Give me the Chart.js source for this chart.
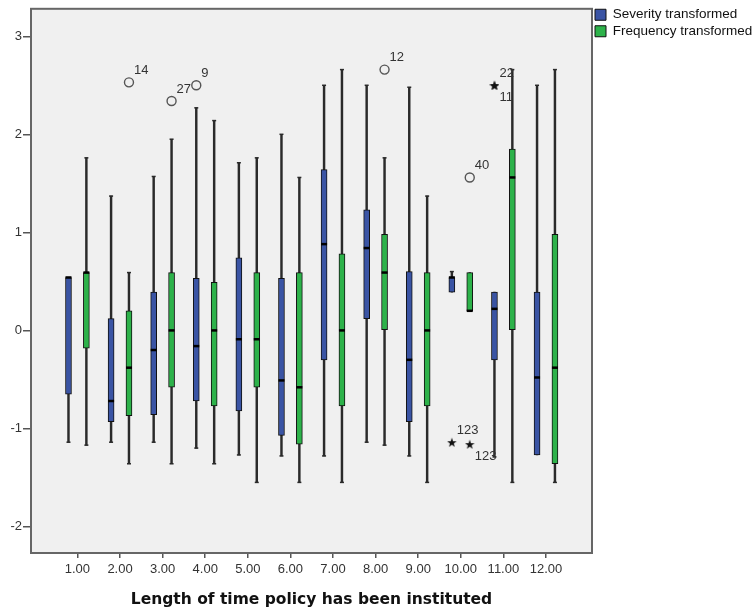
<!DOCTYPE html>
<html>
<head>
<meta charset="utf-8">
<script src="https://cdn.jsdelivr.net/npm/chart.js@4.4.0/dist/chart.umd.min.js"></script>
<style>
  html, body { margin: 0; padding: 0; background: #fff; }
  #chart { display: block; }
</style>
</head>
<body>
<canvas id="chart" width="753" height="615"></canvas>
<script>
// categories on the x axis
const categories = [1, 2, 3, 4, 5, 6, 7, 8, 9, 10, 11, 12];
const xTickLabels = ['1.00', '2.00', '3.00', '4.00', '5.00', '6.00', '7.00', '8.00', '9.00', '10.00', '11.00', '12.00'];
const yTicks = [-2, -1, 0, 1, 2, 3];

// Severity transformed: whisker low, Q1, median, Q3, whisker high
const sevLow  = [-1.14, -1.14, -1.14, -1.20, -1.27, -1.28, -1.28, -1.14, -1.28, 0.39, -1.29, -1.27];
const sevQ1   = [-0.65, -0.93, -0.86, -0.72, -0.82, -1.07, -0.30,  0.12, -0.93, 0.39, -0.30, -1.27];
const sevMed  = [ 0.54, -0.72, -0.20, -0.16, -0.09, -0.51,  0.88,  0.84, -0.30, 0.54,  0.22, -0.48];
const sevQ3   = [ 0.54,  0.12,  0.39,  0.53,  0.74,  0.53,  1.64,  1.23,  0.60, 0.54,  0.39,  0.39];
const sevHigh = [ 0.54,  1.37,  1.57,  2.27,  1.71,  2.00,  2.50,  2.50,  2.48, 0.60,  0.39,  2.50];

// Frequency transformed
const freqLow  = [-1.17, -1.36, -1.36, -1.36, -1.55, -1.55, -1.55, -1.17, -1.55, 0.20, -1.55, -1.55];
const freqQ1   = [-0.18, -0.87, -0.58, -0.77, -0.58, -1.16, -0.77,  0.00, -0.77, 0.20,  0.00, -1.36];
const freqMed  = [ 0.59, -0.38,  0.00,  0.00, -0.09, -0.58,  0.00,  0.59,  0.00, 0.20,  1.56, -0.38];
const freqQ3   = [ 0.59,  0.20,  0.59,  0.49,  0.59,  0.59,  0.78,  0.98,  0.59, 0.59,  1.85,  0.98];
const freqHigh = [ 1.76,  0.59,  1.95,  2.14,  1.76,  1.56,  2.66,  1.76,  1.37, 0.59,  2.66,  2.66];

// outliers (o) and extremes (*)
const outCat    = [2, 3, 4, 8, 10, 10, 10, 11, 11];
const outSeries = ['freq', 'freq', 'sev', 'freq', 'freq', 'sev', 'freq', 'sev', 'sev'];
const outValue  = [2.53, 2.34, 2.50, 2.66, 1.56, -1.14, -1.16, 2.50, 2.50];
const outKind   = ['o', 'o', 'o', 'o', 'o', '*', '*', '*', '*'];
const outLabel  = ['14', '27', '9', '12', '40', '123', '123', '22', '11'];
const outLabelBelow = [false, false, false, false, false, false, true, false, true];

const SEV_BLUE = '#3a54a4';
const FREQ_GREEN = '#2db24a';
const SHIFT = 0.21; // half distance between the two boxes of a category

const xOf = (cat, series) => cat + (series === 'sev' ? -SHIFT : SHIFT);

function makeStar(size) {
  const c = document.createElement('canvas');
  c.width = size; c.height = size;
  const g = c.getContext('2d');
  g.fillStyle = '#111';
  g.beginPath();
  for (let k = 0; k < 10; k++) {
    const r = k % 2 ? size * 0.2 : size * 0.5;
    const a = -Math.PI / 2 + k * Math.PI / 5;
    g.lineTo(size / 2 + r * Math.cos(a), size / 2 + 0.6 + r * Math.sin(a));
  }
  g.closePath();
  g.fill();
  return c;
}
const starImg = makeStar(10);

const boxData = (q1, q3, s) => categories.map((c, i) => ({ x: xOf(c, s), y: [q1[i], q3[i]] }));
const whiskerData = (lo, hi, s) => categories.map((c, i) => ({ x: xOf(c, s), y: [lo[i], hi[i]] }));
const outData = (kind) => outCat.map((c, i) => outKind[i] === kind ? { x: xOf(c, outSeries[i]), y: outValue[i] } : null).filter(Boolean);

const boxOpts = { type: 'bar', grouped: false, barThickness: 6, borderColor: '#111', borderWidth: 1, borderSkipped: false };
const whiskerOpts = { type: 'bar', grouped: false, barThickness: 1.8, backgroundColor: '#2a2a2a', borderWidth: 0 };

const plotFrame = {
  id: 'plotFrame',
  beforeDraw(chart) {
    const { ctx, chartArea: a } = chart;
    ctx.save();
    ctx.fillStyle = '#f0f0f0';
    ctx.fillRect(a.left, a.top, a.right - a.left, a.bottom - a.top);
    ctx.restore();
  },
  afterDatasetsDraw(chart) {
    const { ctx, scales } = chart;
    const y = scales.y;
    ctx.save();
    // whisker caps
    ctx.strokeStyle = '#2a2a2a';
    ctx.lineWidth = 1.5;
    [[2, sevLow, sevQ1, sevQ3, sevHigh], [3, freqLow, freqQ1, freqQ3, freqHigh]].forEach(([di, lo, q1, q3, hi]) => {
      chart.getDatasetMeta(di).data.forEach((bar, j) => {
        const caps = [];
        if (lo[j] < q1[j]) caps.push(lo[j]);
        if (hi[j] > q3[j]) caps.push(hi[j]);
        caps.forEach(v => {
          const py = y.getPixelForValue(v);
          ctx.beginPath();
          ctx.moveTo(bar.x - 2, py);
          ctx.lineTo(bar.x + 2, py);
          ctx.stroke();
        });
      });
    });
    // medians
    ctx.strokeStyle = '#000';
    ctx.lineWidth = 2.5;
    [[0, sevMed], [1, freqMed]].forEach(([di, med]) => {
      chart.getDatasetMeta(di).data.forEach((bar, j) => {
        const py = y.getPixelForValue(med[j]);
        ctx.beginPath();
        ctx.moveTo(bar.x - bar.width / 2, py);
        ctx.lineTo(bar.x + bar.width / 2, py);
        ctx.stroke();
      });
    });
    // case labels next to outliers
    ctx.fillStyle = '#333';
    ctx.font = '13px Arial, "Liberation Sans", sans-serif';
    ctx.textAlign = 'left';
    ctx.textBaseline = 'middle';
    outCat.forEach((c, i) => {
      const px = scales.x.getPixelForValue(xOf(c, outSeries[i]));
      const py = y.getPixelForValue(outValue[i]);
      ctx.fillText(outLabel[i], px + 5, py + (outLabelBelow[i] ? 12 : -12));
    });
    ctx.restore();
  },
  afterDraw(chart) {
    const { ctx, chartArea: a } = chart;
    ctx.save();
    ctx.strokeStyle = '#666';
    ctx.lineWidth = 2;
    ctx.strokeRect(a.left, a.top, a.right - a.left, a.bottom - a.top);
    ctx.restore();
  }
};

new Chart(document.getElementById('chart'), {
  type: 'bar',
  data: {
    datasets: [
      Object.assign({ label: 'Severity transformed', data: boxData(sevQ1, sevQ3, 'sev'), backgroundColor: SEV_BLUE }, boxOpts),
      Object.assign({ label: 'Frequency transformed', data: boxData(freqQ1, freqQ3, 'freq'), backgroundColor: FREQ_GREEN }, boxOpts),
      Object.assign({ label: 'sev whiskers', data: whiskerData(sevLow, sevHigh, 'sev') }, whiskerOpts),
      Object.assign({ label: 'freq whiskers', data: whiskerData(freqLow, freqHigh, 'freq') }, whiskerOpts),
      {
        type: 'scatter', label: 'outliers', data: outData('o'),
        pointStyle: 'circle', pointRadius: 4.5, borderColor: '#555', borderWidth: 1.4, backgroundColor: 'rgba(0,0,0,0)'
      },
      {
        type: 'scatter', label: 'extremes', data: outData('*'),
        pointStyle: starImg, pointRadius: 5
      }
    ]
  },
  options: {
    responsive: false,
    animation: false,
    events: [],
    layout: { padding: { top: 5, left: 0, right: 0, bottom: 0 } },
    scales: {
      x: {
        type: 'linear',
        min: -0.09,
        max: 13.08,
        offset: false,
        afterBuildTicks: (scale) => { scale.ticks = categories.map(v => ({ value: v })); },
        afterFit: (scale) => { scale.height = 62; },
        ticks: {
          autoSkip: false, maxRotation: 0, padding: 4, color: '#333',
          font: { family: 'Arial, "Liberation Sans", sans-serif', size: 13 },
          callback: (v, i) => xTickLabels[i]
        },
        grid: { offset: false, drawOnChartArea: false, drawTicks: true, tickLength: 5, color: '#555', lineWidth: 1.5 },
        border: { display: false },
        title: {
          display: true,
          text: 'Length of time policy has been instituted',
          color: '#111',
          font: { family: '"DejaVu Sans", sans-serif', size: 15.5, weight: 'bold' },
          padding: { top: 4, bottom: 6 }
        }
      },
      y: {
        min: -2.27,
        max: 3.28,
        afterBuildTicks: (scale) => { scale.ticks = yTicks.map(v => ({ value: v })); },
        afterFit: (scale) => { scale.width = 31; },
        ticks: {
          padding: 1, color: '#333',
          font: { family: 'Arial, "Liberation Sans", sans-serif', size: 13 }
        },
        grid: { drawOnChartArea: false, drawTicks: true, tickLength: 8, color: '#555', lineWidth: 1.5 },
        border: { display: false }
      }
    },
    plugins: {
      tooltip: { enabled: false },
      legend: {
        position: 'right',
        align: 'start',
        maxWidth: 161,
        labels: {
          boxWidth: 11,
          boxHeight: 11,
          padding: 3,
          color: '#111',
          font: { family: 'Arial, "Liberation Sans", sans-serif', size: 13.5 },
          filter: (item) => item.datasetIndex < 2
        }
      }
    }
  },
  plugins: [plotFrame]
});
</script>
</body>
</html>
